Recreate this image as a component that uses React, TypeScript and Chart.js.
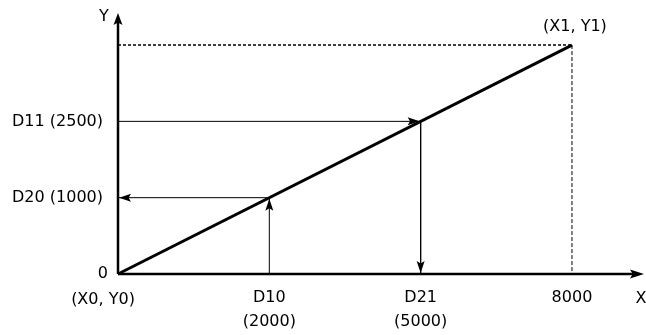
import React, { useEffect, useRef } from "react";
import { Chart, registerables } from "chart.js";

Chart.register(...registerables);

// Schematic positions (equally spaced steps on each axis)
const xSteps = [0, 1, 2, 3];
const ySteps = [0, 1, 2, 3];
const xTickLabels: (string | string[])[] = ["(X0, Y0)", ["D10", "(2000)"], ["D21", "(5000)"], "8000"];
const yTickLabels = ["0", "D20 (1000)", "D11 (2500)", ""];
const endPointLabel = "(X1, Y1)";
const xAxisTitle = "X";
const yAxisTitle = "Y";

// Main conversion line from (X0,Y0) to (X1,Y1)
const lineX = [0, 3];
const lineY = [0, 3];
// D10 -> D20 arrow path (x from axis up to line, then left to Y axis)
const arrowAX = [1, 1, 0];
const arrowAY = [0, 1, 1];
// D11 -> D21 arrow path (from Y axis right to line, then down to X axis)
const arrowBX = [0, 2, 2];
const arrowBY = [2, 2, 0];
// Guide lines to (X1,Y1)
const guideHX = [0, 3];
const guideHY = [3, 3];
const guideVX = [3, 3];
const guideVY = [3, 0];

const X_MAX = 3.476;
const Y_MAX = 3.42;

const pts = (xs: number[], ys: number[]) => xs.map((x, i) => ({ x, y: ys[i] }));

export default function App() {
  const ref = useRef<HTMLCanvasElement>(null);
  useEffect(() => {
    const FONT = '16px "DejaVu Sans", Verdana, sans-serif';
    const overlay = {
      id: "overlay",
      afterDatasetsDraw(chart: any) {
        const ctx = chart.ctx;
        const xs = chart.scales.x;
        const ys = chart.scales.y;
        const px = (v: number) => xs.getPixelForValue(v);
        const py = (v: number) => ys.getPixelForValue(v);
        const head = (x: number, y: number, dir: string, len: number, half: number) => {
          ctx.save();
          ctx.fillStyle = "#000";
          ctx.beginPath();
          ctx.moveTo(x, y);
          if (dir === "up") { ctx.lineTo(x - half, y + len); ctx.lineTo(x, y + len * 0.8); ctx.lineTo(x + half, y + len); }
          if (dir === "down") { ctx.lineTo(x - half, y - len); ctx.lineTo(x, y - len * 0.8); ctx.lineTo(x + half, y - len); }
          if (dir === "left") { ctx.lineTo(x + len, y - half); ctx.lineTo(x + len * 0.8, y); ctx.lineTo(x + len, y + half); }
          if (dir === "right") { ctx.lineTo(x - len, y - half); ctx.lineTo(x - len * 0.8, y); ctx.lineTo(x - len, y + half); }
          ctx.closePath();
          ctx.fill();
          ctx.restore();
        };
        // axis arrowheads
        head(px(0), py(Y_MAX), "up", 12, 4.5);
        head(px(X_MAX), py(0), "right", 14, 4.5);
        // arrow A heads
        head(px(arrowAX[1]), py(arrowAY[1]) + 1, "up", 12, 4);
        head(px(arrowAX[2]) + 1, py(arrowAY[2]), "left", 12, 4);
        // arrow B heads
        head(px(arrowBX[1]) - 1, py(arrowBY[1]), "right", 12, 4);
        head(px(arrowBX[2]), py(arrowBY[2]) - 1, "down", 12, 4);

        ctx.save();
        ctx.fillStyle = "#000";
        ctx.font = FONT;
        ctx.textBaseline = "middle";
        // y tick labels
        ySteps.forEach((s, i) => {
          const t = yTickLabels[i];
          if (!t) return;
          ctx.textAlign = "right";
          ctx.fillText(t, px(0) - (i === 0 ? 10 : 15), py(s));
        });
        // x tick labels
        xSteps.forEach((s, i) => {
          const t = xTickLabels[i];
          ctx.textAlign = "center";
          const lines = Array.isArray(t) ? t : [t];
          const cx = i === 0 ? px(s) - 15 : px(s);
          lines.forEach((ln, k) => {
            ctx.fillText(ln, cx, py(0) + (i === 0 ? 26 : 24) + k * 24);
          });
        });
        ctx.textAlign = "center";
        ctx.fillText(endPointLabel, px(lineX[1]) + 3, py(lineY[1]) - 18);
        ctx.fillText(yAxisTitle, px(0) - 14, py(Y_MAX) + 4);
        ctx.fillText(xAxisTitle, px(X_MAX) - 3, py(0) + 25);
        ctx.restore();
      },
    };

    const chart = new Chart(ref.current!, {
      type: "line",
      data: {
        datasets: [
          { data: pts([0, X_MAX - 8 / 151.3], [0, 0]), borderColor: "#000", borderWidth: 2.5, pointRadius: 0 },
          { data: pts([0, 0], [0, Y_MAX - 8 / 76.3]), borderColor: "#000", borderWidth: 2.5, pointRadius: 0 },
          { data: pts(guideHX, guideHY), borderColor: "#000", borderWidth: 1.5, borderDash: [3, 2], pointRadius: 0 },
          { data: pts(guideVX, guideVY), borderColor: "#000", borderWidth: 1, borderDash: [4, 2], pointRadius: 0 },
          { data: pts(arrowAX, arrowAY), borderColor: "#000", borderWidth: 1, pointRadius: 0 },
          { data: pts(arrowBX, arrowBY), borderColor: "#000", borderWidth: 1, pointRadius: 0 },
          { data: pts(lineX, lineY), borderColor: "#000", borderWidth: 3, pointRadius: 0 },
        ] as any,
      },
      options: {
        animation: false,
        responsive: false,
        devicePixelRatio: 1,
        layout: { padding: { left: 118, top: 13, right: 2, bottom: 61 } },
        elements: { line: { tension: 0, fill: false } },
        datasets: { line: { clip: false } as any },
        plugins: { legend: { display: false }, tooltip: { enabled: false } },
        scales: {
          x: { type: "linear", min: 0, max: X_MAX, display: false },
          y: { type: "linear", min: 0, max: Y_MAX, display: false },
        },
      },
      plugins: [overlay],
    });
    return () => chart.destroy();
  }, []);
  return (
    <div style={{ position: "absolute", left: 0, top: 0, width: 646, height: 335, background: "#fff" }}>
      <canvas ref={ref} width={646} height={335} style={{ display: "block" }} />
    </div>
  );
}
